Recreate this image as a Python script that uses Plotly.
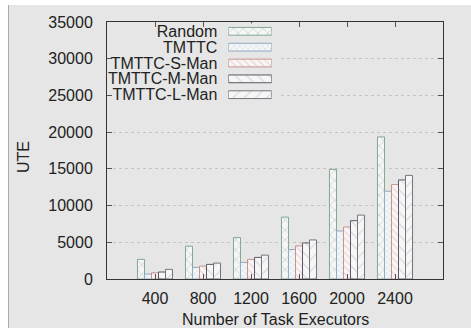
import plotly.graph_objects as go

categories = ["400", "800", "1200", "1600", "2000", "2400"]
series_names = ["Random", "TMTTC", "TMTTC-S-Man", "TMTTC-M-Man", "TMTTC-L-Man"]
random_vals = [2670, 4470, 5640, 8430, 14930, 19350]
tmttc_vals = [680, 1580, 2260, 4010, 6540, 11950]
s_man_vals = [850, 1760, 2670, 4510, 7080, 12860]
m_man_vals = [950, 1990, 2940, 4910, 7940, 13490]
l_man_vals = [1310, 2170, 3250, 5320, 8700, 14110]
y_ticks = [0, 5000, 10000, 15000, 20000, 25000, 30000, 35000]

series_values = [random_vals, tmttc_vals, s_man_vals, m_man_vals, l_man_vals]
styles = [
    dict(shape="x", fg="#93b9a3", line="#86a893", size=7, sol=0.22),
    dict(shape="x", fg="#9cbedb", line="#93aac2", size=4, sol=0.22),
    dict(shape="\\", fg="#ec9f97", line="#c4958f", size=5, sol=0.2),
    dict(shape="\\", fg="#bcbac2", line="#5c5866", size=8, sol=0.15),
    dict(shape="/", fg="#bcbac2", line="#77737e", size=8, sol=0.15),
]

W, H = 471, 328
L, R, T, B = 107, 28, 22, 49
PW, PH = W - L - R, H - T - B


def px_x(p):
    return (p - L) / PW


def px_y(p):
    return (H - B - p) / PH


xpos = list(range(1, len(categories) + 1))
BG = "#e5e6e5"
FONT = "Liberation Sans, Arial, sans-serif"

fig = go.Figure()
for name, vals, st in zip(series_names, series_values, styles):
    marker = dict(
        color="#f6f6f6",
        line=dict(color=st["line"], width=1),
        pattern=dict(shape=st["shape"], fgcolor=st["fg"], bgcolor="#f6f6f6",
                     size=st["size"], solidity=st["sol"]),
    )
    fig.add_trace(go.Bar(x=xpos, y=vals, name=name, marker=marker, showlegend=False))
    fig.add_trace(go.Bar(x=[1], y=[name], orientation="h", width=0.49,
                         xaxis="x2", yaxis="y2", marker=marker, showlegend=False))

fig.update_layout(
    width=W, height=H,
    margin=dict(l=L, r=R, t=T, b=B, pad=0),
    paper_bgcolor="white",
    plot_bgcolor=BG,
    barmode="group",
    bargap=0.27,
    bargroupgap=0,
    font=dict(family=FONT, size=16, color="#222"),
    xaxis=dict(
        range=[0, 7], tickvals=xpos, ticktext=categories,
        showline=True, linecolor="#333", linewidth=1, mirror="ticks",
        ticks="inside", ticklen=5, tickcolor="#555",
        showgrid=False, zeroline=False, ticklabelstandoff=5,
        tickfont=dict(size=16),
    ),
    yaxis=dict(
        range=[0, 35000], tickvals=y_ticks, ticktext=[str(v) for v in y_ticks],
        showline=True, linecolor="#333", linewidth=1, mirror="ticks",
        ticks="inside", ticklen=5, tickcolor="#555",
        showgrid=True, gridcolor="#c4c4c4", griddash="dot", gridwidth=1,
        zeroline=False, ticklabelstandoff=10, tickfont=dict(size=16),
    ),
    xaxis2=dict(domain=[px_x(228.3), px_x(271.7)], range=[0, 1], anchor="y2",
                visible=False, fixedrange=True),
    yaxis2=dict(domain=[px_y(102.6), px_y(23.4)], anchor="x2", type="category",
                categoryorder="array", categoryarray=series_names,
                tickmode="array", tickvals=series_names, ticktext=series_names,
                range=[4.5, -0.5], showgrid=False, showline=False, ticks="",
                zeroline=False, ticklabelstandoff=10, tickfont=dict(size=16)),
    shapes=[
        dict(type="rect", xref="paper", yref="paper", layer="below",
             x0=px_x(8), x1=px_x(480), y0=px_y(340), y1=px_y(5),
             fillcolor=BG, line=dict(width=0)),
        dict(type="line", xref="paper", yref="paper", layer="below",
             x0=px_x(8.5), x1=px_x(8.5), y0=px_y(340), y1=px_y(5),
             line=dict(color="#aaaaaa", width=1)),
        dict(type="rect", xref="x", yref="y", layer="between",
             x0=0.02, x1=3.6, y0=22500, y1=34900,
             fillcolor=BG, line=dict(width=0)),
    ],
    annotations=[
        dict(text="Number of Task Executors", xref="paper", yref="paper",
             x=0.5, y=px_y(319), xanchor="center", yanchor="middle",
             showarrow=False, font=dict(size=16)),
        dict(text="UTE", xref="paper", yref="paper", textangle=-90,
             x=px_x(23), y=px_y(157), xanchor="center", yanchor="middle",
             showarrow=False, font=dict(size=16)),
    ],
)

fig.write_html("out.html")
